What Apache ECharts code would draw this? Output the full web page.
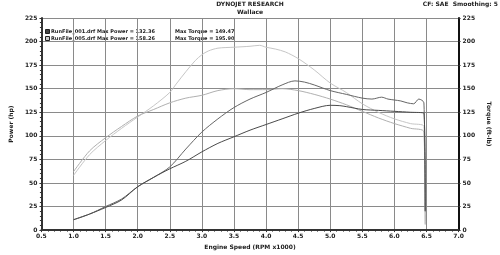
<!DOCTYPE html>
<html><head><meta charset="utf-8">
<script src="https://cdn.jsdelivr.net/npm/echarts@6/dist/echarts.min.js"></script>
<style>html,body{margin:0;padding:0;background:#fff}#c{width:500px;height:255px}</style>
</head><body><div id="c"></div>
<script>
var titleText = "DYNOJET RESEARCH";
var subtitleText = "Wallace";
var cornerText = "CF: SAE  Smoothing: 5";
var xAxisName = "Engine Speed (RPM x1000)";
var leftAxisName = "Power (hp)";
var rightAxisName = "Torque (ft-lb)";
var legendFiles = ["RunFile_001.drf", "RunFile_005.drf"];
var legendMaxPower = ["132.36", "158.26"];
var legendMaxTorque = ["149.47", "195.90"];

// Run 005 torque (light)
var r5TorqueRpm  = [1.0, 1.25, 1.5, 1.75, 2.0, 2.25, 2.5, 2.6, 2.75, 2.9, 3.0, 3.1, 3.25, 3.5, 3.75, 3.9, 4.0, 4.15, 4.3, 4.5, 4.75, 5.0, 5.25, 5.5, 5.75, 6.0, 6.25, 6.46, 6.48];
var r5TorqueVals = [58, 80, 95, 108, 120, 132, 146, 155, 168, 180, 186, 190, 193, 194, 195, 196, 194, 192, 189, 182, 170, 156, 146, 134, 125, 118, 113, 110, 6];
// Run 001 torque (light)
var r1TorqueRpm  = [1.0, 1.25, 1.5, 1.75, 2.0, 2.25, 2.5, 2.75, 3.0, 3.25, 3.5, 3.75, 4.0, 4.25, 4.5, 4.75, 5.0, 5.25, 5.5, 5.75, 6.0, 6.25, 6.46, 6.48];
var r1TorqueVals = [62, 84, 98, 110, 121, 128, 135, 140, 143, 148, 150, 149, 149, 150, 148, 144, 139, 133, 126, 119, 113, 108, 104, 6];
// Run 005 power (dark)
var r5PowerRpm  = [1.0, 1.25, 1.5, 1.75, 2.0, 2.25, 2.5, 2.75, 3.0, 3.25, 3.5, 3.75, 4.0, 4.25, 4.45, 4.6, 4.75, 5.0, 5.25, 5.5, 5.65, 5.8, 5.9, 6.0, 6.1, 6.2, 6.3, 6.38, 6.46, 6.48];
var r5PowerVals = [11, 17, 25, 33, 46, 56, 67, 86, 104, 118, 130, 139, 146, 154, 158.3, 157, 154, 148, 144, 140, 139, 141, 139, 138, 137, 135, 134, 139, 135, 20];
// Run 001 power (dark)
var r1PowerRpm  = [1.0, 1.25, 1.5, 1.75, 2.0, 2.25, 2.5, 2.75, 3.0, 3.25, 3.5, 3.75, 4.0, 4.25, 4.5, 4.75, 5.0, 5.15, 5.25, 5.5, 5.75, 6.0, 6.25, 6.46, 6.48];
var r1PowerVals = [11, 17, 24, 32, 46, 56, 65, 73, 83, 92, 99, 106, 112, 118, 124, 129, 132.4, 132, 131, 128, 127, 126, 125, 124, 20];

var xTicksMin = 0.5, xTicksMax = 7.0, xStep = 0.5;
var yMin = 0, yMax = 225, yStep = 25;

function pairs(xs, ys){ return xs.map(function(x,i){ return [x, ys[i]]; }); }

var chart = echarts.init(document.getElementById('c'), null, {renderer:'canvas'});
var FONT = 'DejaVu Sans';
var lblStyle = {fontFamily: FONT, fontSize: 6, fontWeight: 'bold', color: '#222'};

var option = {
  animation: false,
  backgroundColor: '#fff',
  grid: {left: 22, right: 22, top: 18, bottom: 16, containLabel: false},
  xAxis: {
    type: 'value', min: xTicksMin, max: xTicksMax, interval: xStep,
    name: xAxisName, nameLocation: 'middle', nameGap: 10,
    nameTextStyle: {fontFamily: FONT, fontSize: 6, fontWeight: 'bold', color: '#222'},
    axisLine: {show: true, lineStyle: {color: '#333', width: 2}},
    axisTick: {show: true, length: 2, inside: false, lineStyle: {color: '#333'}},
    minorTick: {show: true, splitNumber: 5, length: 1.5, lineStyle: {color: '#333'}},
    axisLabel: Object.assign({margin: 3, formatter: function(v){ return v.toFixed(1); }}, lblStyle),
    splitLine: {show: true, lineStyle: {color: '#8a8a8a', width: 1}}
  },
  yAxis: [{
    type: 'value', min: yMin, max: yMax, interval: yStep, position: 'left',
    name: leftAxisName, nameLocation: 'middle', nameGap: 16, nameRotate: 90,
    nameTextStyle: {fontFamily: FONT, fontSize: 6, fontWeight: 'bold', color: '#222'},
    axisLine: {show: true, lineStyle: {color: '#333', width: 2}},
    axisTick: {show: true, length: 2, lineStyle: {color: '#333'}},
    minorTick: {show: true, splitNumber: 5, length: 1.5, lineStyle: {color: '#333'}},
    axisLabel: Object.assign({margin: 4}, lblStyle),
    splitLine: {show: true, lineStyle: {color: '#8a8a8a', width: 1}}
  }, {
    type: 'value', min: yMin, max: yMax, interval: yStep, position: 'right',
    name: rightAxisName, nameLocation: 'middle', nameGap: 14, nameRotate: -90,
    nameTextStyle: {fontFamily: FONT, fontSize: 6, fontWeight: 'bold', color: '#222'},
    axisLine: {show: true, lineStyle: {color: '#111', width: 2}},
    axisTick: {show: true, length: 2, lineStyle: {color: '#333'}},
    axisLabel: Object.assign({margin: 4}, lblStyle),
    splitLine: {show: false}
  }],
  graphic: [
    {type: 'text', left: 'center', top: 1, style: {text: titleText, font: 'bold 6px "DejaVu Sans"', fill: '#222'}},
    {type: 'text', left: 'center', top: 9, style: {text: subtitleText, font: 'bold 6px "DejaVu Sans"', fill: '#222'}},
    {type: 'text', right: 2, top: 1, style: {text: cornerText, font: 'bold 6px "DejaVu Sans"', fill: '#222'}},
    {type: 'rect', left: 45, top: 29, shape: {width: 4, height: 4}, style: {fill: '#444', stroke: '#222'}},
    {type: 'rect', left: 45, top: 36, shape: {width: 4, height: 4}, style: {fill: '#ccc', stroke: '#222'}},
    {type: 'text', left: 51, top: 29, style: {text: legendFiles[0] + ' Max Power = ' + legendMaxPower[0], font: 'bold 5px "DejaVu Sans"', fill: '#222'}},
    {type: 'text', left: 51, top: 36, style: {text: legendFiles[1] + ' Max Power = ' + legendMaxPower[1], font: 'bold 5px "DejaVu Sans"', fill: '#222'}},
    {type: 'text', left: 175, top: 29, style: {text: 'Max Torque = ' + legendMaxTorque[0], font: 'bold 5px "DejaVu Sans"', fill: '#222'}},
    {type: 'text', left: 175, top: 36, style: {text: 'Max Torque = ' + legendMaxTorque[1], font: 'bold 5px "DejaVu Sans"', fill: '#222'}}
  ],
  series: [
    {name: 'RunFile_005 Torque', type: 'line', yAxisIndex: 1, showSymbol: false, smooth: 0.3,
     data: pairs(r5TorqueRpm, r5TorqueVals), lineStyle: {color: '#c6c6c6', width: 1}},
    {name: 'RunFile_001 Torque', type: 'line', yAxisIndex: 1, showSymbol: false, smooth: 0.3,
     data: pairs(r1TorqueRpm, r1TorqueVals), lineStyle: {color: '#b0b0b0', width: 1}},
    {name: 'RunFile_005 Power', type: 'line', yAxisIndex: 0, showSymbol: false, smooth: 0.3,
     data: pairs(r5PowerRpm, r5PowerVals), lineStyle: {color: '#666', width: 1}},
    {name: 'RunFile_001 Power', type: 'line', yAxisIndex: 0, showSymbol: false, smooth: 0.3,
     data: pairs(r1PowerRpm, r1PowerVals), lineStyle: {color: '#4a4a4a', width: 1}}
  ]
};
chart.setOption(option);
</script></body></html>
